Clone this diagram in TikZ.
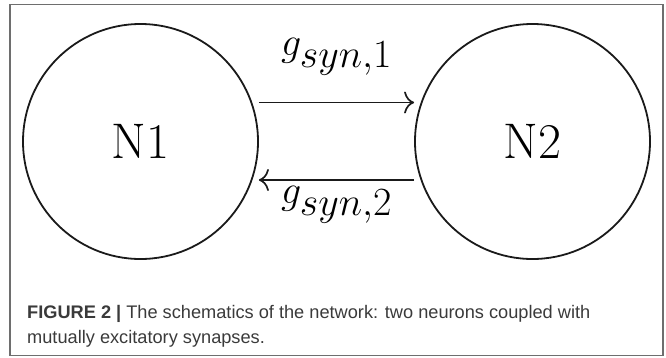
\RequirePackage{fix-cm}
\documentclass[tikz,border=0pt]{standalone}
\usepackage{fontspec}
\usepackage{amsmath}
\newfontfamily\capfont{Liberation Sans}
\usetikzlibrary{arrows.meta,calc}
\definecolor{inkdark}{HTML}{1A1A1A}
\definecolor{framegray}{HTML}{6E6E6E}
\definecolor{captext}{HTML}{3A3A3A}
\tikzset{
  neuron/.style={circle, draw=inkdark, line width=1.8pt, minimum size=235pt, inner sep=0pt,
    font=\fontsize{50}{50}\selectfont},
  synapse/.style={draw=inkdark, line width=1.8pt,
    -{Computer Modern Rightarrow[length=10pt,width=22pt,line width=1.7pt]}},
  synlabel/.style={inner sep=0pt, font=\fontsize{40}{40}\selectfont},
  captionline/.style={anchor=base west, inner sep=0pt, text=captext,
    font=\capfont\fontsize{18.2}{22}\selectfont}
}
\begin{document}
\begin{tikzpicture}[x=1pt,y=-1pt]
  \useasboundingbox (0,0) rectangle (666,357);
  % outer frame
  \draw[framegray, line width=1.5pt] (10,4.5) rectangle (663,355.5);
  % the two neurons
  \node[neuron] (N1) at (140.5,141.5) {N1};
  \node[neuron] (N2) at (532.5,141.5) {N2};
  % synaptic couplings
  \coordinate (a1) at ($(N1.east)+(0,-39)$);
  \coordinate (b1) at ($(N2.west)+(0,-39)$);
  \coordinate (a2) at ($(N2.west)+(0,38.5)$);
  \coordinate (b2) at ($(N1.east)+(0,38.5)$);
  \draw[synapse] (a1) -- (b1);
  \draw[synapse] (a2) -- (b2);
  \node[synlabel, anchor=south] (L1) at ($(a1)!0.5!(b1)+(0,-27)$) {$g_{\textstyle syn{,}1}$};
  \node[synlabel, anchor=north] (L2) at ($(a2)!0.5!(b2)+(0,6)$) {$g_{\textstyle syn{,}2}$};
  % caption
  \node[captionline] (cap1) at (27,318) {\textbf{FIGURE 2 |} The schematics of the network: two neurons coupled with};
  \node[captionline] (cap2) at (27,343) {mutually excitatory synapses.};
\end{tikzpicture}
\end{document}
